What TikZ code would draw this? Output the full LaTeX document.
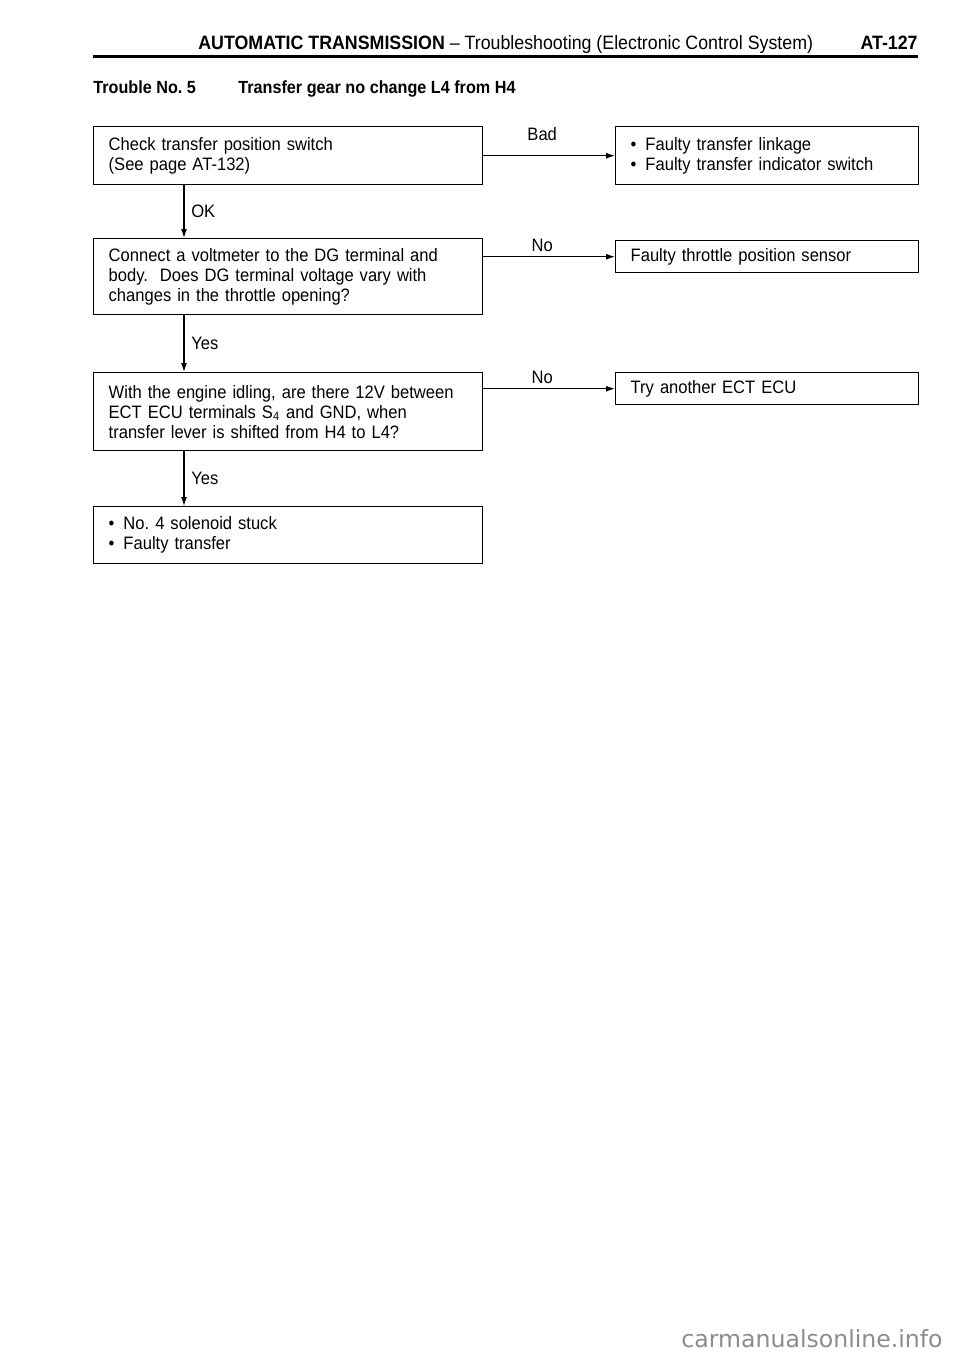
\documentclass[tikz,border=0pt]{standalone}
\usepackage{fontspec}
\setmainfont{Liberation Sans}[FakeStretch=0.92]
\newfontfamily\markfont{DejaVu Sans}
\usetikzlibrary{arrows.meta}
\frenchspacing

\begin{document}
\begin{tikzpicture}[x=0.5pt,y=-0.5pt,
  every node/.style={font=\fontsize{9}{10}\selectfont},
  stepbox/.style={draw,line width=0.7pt,anchor=north west,align=left,
    inner xsep=7.5pt,text width=179.5pt},
  faultbox/.style={stepbox,text width=136.5pt},
  answer/.style={xshift=-3.5pt},
  flow/.style={-{Latex[length=4.5pt,width=3pt]},line width=0.6pt}]
\useasboundingbox (0,0) rectangle (960,1356);
% heading
\node [anchor=base west,inner sep=0pt] (title) at (198,49)
  {\fontsize{9.67}{12}\selectfont\textbf{AUTOMATIC TRANSMISSION} -- Troubleshooting (Electronic Control System)};
\node [anchor=base east,inner sep=0pt] (page) at (918,49)
  {\fontsize{9.67}{12}\selectfont\bfseries AT-127};
\draw [line width=1.5pt] (93,56) -- (918,56);
\node [anchor=base west,inner sep=0pt] (trouble) at (93,93) {\fontsize{8.8}{10}\selectfont\bfseries Trouble No. 5};
\node [anchor=base west,inner sep=0pt] (symptom) at (238,93) {\fontsize{8.8}{10}\selectfont\bfseries Transfer gear no change L4 from H4};
% left column
\node [stepbox,minimum height=29pt] (check) at (93,126)
  {Check transfer position switch\\(See page AT-132)};
\node [stepbox,minimum height=38pt] (dg) at (93,238)
  {Connect a voltmeter to the DG terminal and\\body.\ \ Does DG terminal voltage vary with\\changes in the throttle opening?};
\node [stepbox,minimum height=39pt] (ecu) at (93,372)
  {With the engine idling, are there 12V between\\ECT ECU terminals S\textsubscript{4} and GND, when\\transfer lever is shifted from H4 to L4?};
\node [stepbox,minimum height=28.5pt] (stuck) at (93,506)
  {\textbullet\enspace No. 4 solenoid stuck\\\textbullet\enspace Faulty transfer};
% right column
\node [faultbox,minimum height=29pt] (linkage) at (615,126)
  {\textbullet\enspace Faulty transfer linkage\\\textbullet\enspace Faulty transfer indicator switch};
\node [faultbox,minimum height=16pt] (tps) at (615,240)
  {Faulty throttle position sensor};
\node [faultbox,minimum height=16pt] (another) at (615,372)
  {Try another ECT ECU};
% connectors
\coordinate (spine) at (184,0);
\draw [flow] (check.south -| spine) -- node [right] {OK} (dg.north -| spine);
\draw [flow] (dg.south -| spine) -- node [right] {Yes} (ecu.north -| spine);
\draw [flow] (ecu.south -| spine) -- node [right] {Yes} (stuck.north -| spine);
\draw [flow] (check.east) -- node [answer,above=4pt] {Bad} (linkage.west);
\draw [flow] (dg.east |- tps.west) -- node [answer,above=-1pt] {No} (tps.west);
\draw [flow] (ecu.east |- another.west) -- node [answer,above=-1pt] {No} (another.west);
% watermark
\node [anchor=base east,inner sep=0pt,text=black!45] (mark) at (943,1347)
  {\markfont\fontsize{11.8}{13}\selectfont carmanualsonline.info};
\end{tikzpicture}
\end{document}
